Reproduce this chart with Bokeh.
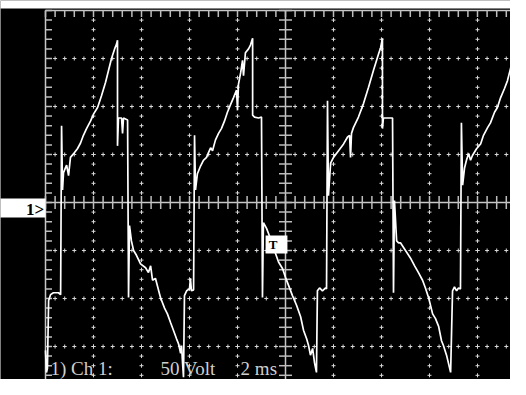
from bokeh.plotting import figure
from bokeh.models import Range1d
from bokeh.embed import file_html
from bokeh.resources import INLINE
from bokeh.core.properties import value

# Channel 1 trace: time in ms, voltage in V (2 ms/div, 50 V/div)
time_ms = [0.00, 0.04, 0.08, 0.13, 0.21, 0.33, 0.54, 0.63, 0.67, 0.71, 0.75, 0.83, 0.88, 0.96,
           1.04, 1.21, 1.33, 1.46, 1.58, 1.71, 1.88, 2.00, 2.17, 2.33, 2.50, 2.63, 2.75, 2.88,
           2.96, 3.00, 3.00, 3.04, 3.17, 3.21, 3.25, 3.42, 3.46, 3.50, 3.58, 3.67, 3.79, 3.96,
           4.17, 4.29, 4.38, 4.46, 4.58, 4.79, 4.96, 5.08, 5.21, 5.33, 5.46, 5.54, 5.63, 5.67,
           5.71, 5.75, 5.79, 5.88, 6.00, 6.04, 6.08, 6.17, 6.21, 6.25, 6.33, 6.46, 6.58, 6.71,
           6.79, 6.88, 6.96, 7.08, 7.21, 7.33, 7.46, 7.58, 7.71, 7.83, 7.96, 8.00, 8.04, 8.13,
           8.21, 8.25, 8.33, 8.46, 8.54, 8.63, 8.63, 8.71, 8.88, 9.00, 9.04, 9.08, 9.21, 9.38,
           9.54, 9.71, 9.88, 10.00, 10.29, 10.46, 10.63, 10.75, 10.88, 10.96, 11.04, 11.13,
           11.21, 11.29, 11.33, 11.42, 11.54, 11.67, 11.71, 11.75, 11.79, 11.88, 12.00, 12.21,
           12.42, 12.58, 12.67, 12.71, 12.75, 12.83, 13.04, 13.25, 13.46, 13.67, 13.88, 13.96,
           14.04, 14.04, 14.08, 14.29, 14.46, 14.50, 14.54, 14.63, 14.71, 14.79, 15.00, 15.21,
           15.38, 15.54, 15.71, 15.83, 15.96, 16.13, 16.25, 16.38, 16.50, 16.58, 16.71, 16.88,
           16.96, 17.04, 17.13, 17.21, 17.29, 17.33, 17.38, 17.46, 17.54, 17.63, 17.71, 17.79,
           17.96, 18.13, 18.25, 18.42, 18.54, 18.71, 18.83, 18.96, 19.13, 19.25, 19.38, 19.46,
           19.54, 19.58, 19.63, 19.71, 19.79, 19.83, 19.88, 20.00]
volts = [-154, -177, -173, -102, -96, -94, -94, -96, 80, 13, 31, 36, 39, 28,
         47, 52, 56, 62, 70, 77, 85, 92, 99, 111, 125, 138, 150, 160,
         165, 169, 59, 88, 88, 72, 88, 86, -99, -24, -40, -50, -55, -64,
         -68, -73, -66, -81, -79, -99, -110, -116, -125, -133, -142, -147, -157, -149,
         -167, -182, -97, -92, -90, -79, -92, -91, 70, 13, 30, 38, 44, 47,
         52, 57, 54, 65, 72, 77, 85, 94, 102, 109, 117, 96, 123, 135,
         148, 132, 156, 160, 164, 171, 91, 89, 88, 89, -99, -21, -27, -38,
         -50, -62, -69, -78, -97, -107, -119, -133, -142, -149, -159, -152,
         -167, -177, -92, -89, -92, -89, -90, 106, 7, 41, 47, 54,
         61, 68, 70, 47, 72, 78, 89, 103, 120, 138, 155, 161,
         171, 77, 88, 88, 88, -94, 2, -40, -42, -42, -50, -58,
         -66, -73, -81, -89, -99, -116, -121, -129, -144, -149, -159, -177,
         -92, -88, -92, -89, -90, 83, 18, 36, 44, 51, 44, 49,
         56, 61, 70, 78, 83, 94, 99, 109, 119, 127, 140, 148,
         158, 169, 106, 93, 91, 78, 93, 91]

channel_marker = "1>"
trigger_marker = "T"
status_parts = ["1) Ch 1:", "50 Volt", "2 ms"]

MS_PER_DIV = 2.0
V_PER_DIV = 50.0
N_XDIV = 10
N_YDIV = 4  # each side of centre
SUB = 5

PX_PER_MS = 24.0
PX_PER_V = 0.96

W, H = 510, 379
x0 = -45 / PX_PER_MS
y1 = 202 / PX_PER_V
p = figure(width=W, height=H, output_backend="svg", toolbar_location=None,
           x_range=Range1d(x0, x0 + W / PX_PER_MS),
           y_range=Range1d(y1 - H / PX_PER_V, y1),
           x_axis_type=None, y_axis_type=None, min_border=0)
p.min_border_left = p.min_border_right = p.min_border_top = p.min_border_bottom = 0
p.background_fill_color = "black"
p.border_fill_color = "black"
p.outline_line_color = None
p.grid.grid_line_color = None

xmax = N_XDIV * MS_PER_DIV
ymax = N_YDIV * V_PER_DIV
xc = xmax / 2
dx = MS_PER_DIV / SUB
dy = V_PER_DIV / SUB

# white strip along the top of the screen capture
p.quad(left=[x0 - 1], right=[x0 + W / PX_PER_MS + 1], top=[y1 + 1],
       bottom=[(202 - 8) / PX_PER_V], fill_color="white", line_color=None)

grid_col = "#d8d8d8"
# dotted graticule (small crosses)
cx, cy = [], []
for j in range(-N_YDIV + 1, N_YDIV):
    if j == 0:
        continue
    for k in range(1, N_XDIV * SUB):
        cx.append(k * dx)
        cy.append(j * V_PER_DIV)
for i in range(1, N_XDIV):
    if i * MS_PER_DIV == xc:
        continue
    for k in range(-N_YDIV * SUB + 1, N_YDIV * SUB):
        cx.append(i * MS_PER_DIV)
        cy.append(k * dy)
p.scatter(cx, cy, marker="cross", size=4, line_color=grid_col, line_width=1)

# borders and centre axes
p.segment(x0=[0, 0, xc, 0], y0=[-ymax, ymax, -ymax, 0],
          x1=[0, xmax, xc, xmax], y1=[ymax, ymax, ymax, 0],
          line_color="#c8c8c8", line_width=1.5)

tl_x = 6.5 / PX_PER_MS
tl_y = 6.5 / PX_PER_V
sx0, sy0, sx1, sy1 = [], [], [], []
for k in range(0, N_XDIV * SUB + 1):
    t = k * dx
    # top border ticks
    sx0.append(t); sy0.append(ymax); sx1.append(t); sy1.append(ymax - tl_y)
    # centre horizontal axis ticks
    sx0.append(t); sy0.append(-tl_y); sx1.append(t); sy1.append(tl_y)
for k in range(-N_YDIV * SUB, N_YDIV * SUB + 1):
    v = k * dy
    # left border ticks
    sx0.append(0); sy0.append(v); sx1.append(tl_x); sy1.append(v)
    # centre vertical axis ticks
    sx0.append(xc - tl_x); sy0.append(v); sx1.append(xc + tl_x); sy1.append(v)
p.segment(x0=sx0, y0=sy0, x1=sx1, y1=sy1, line_color="#bdbdbd", line_width=1.5)

# trace
p.line(time_ms, volts, line_color="white", line_width=1.7)

# channel reference marker
p.quad(left=[x0 - 1], right=[0], top=[4.2], bottom=[-15.6], fill_color="white", line_color=None)
p.text(x=[-0.05], y=[-7.5], text=[channel_marker], text_align="right", text_baseline="middle",
       text_font=value("Liberation Serif"), text_font_size="17px", text_font_style="bold",
       text_color="black")

# trigger marker
p.quad(left=[9.17], right=[10.08], top=[-34.4], bottom=[-53.1], fill_color="white", line_color=None)
p.text(x=[9.48], y=[-43.5], text=[trigger_marker], text_align="center", text_baseline="middle",
       text_font=value("Liberation Serif"), text_font_size="13px", text_font_style="bold",
       text_color="black")

# status line
p.text(x=[0.21, 4.79, 8.13], y=[-173.0] * 3, text=status_parts, text_align="left",
       text_baseline="alphabetic", text_font=value("Liberation Serif"), text_font_size="19px",
       text_color="#cfcfcf")

open("out.html", "w").write(file_html(p, INLINE))
